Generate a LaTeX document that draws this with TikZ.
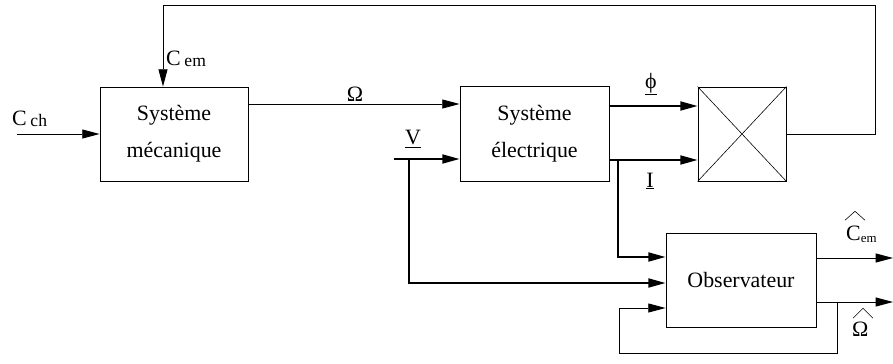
\documentclass[tikz,border=0pt]{standalone}
\usepackage{fontspec}
\setmainfont{Liberation Serif}
\usetikzlibrary{arrows.meta}
\begin{document}
\begin{tikzpicture}[x=0.03cm, y=-0.03cm,
  bloc/.style={draw, line width=0.7pt, align=center, inner sep=0pt,
    font=\fontsize{18.7}{31.5}\selectfont},
  fin/.style={line width=0.8pt},
  gras/.style={line width=1.7pt},
  chapeau/.style={line width=0.5pt},
  fl/.style={-{Triangle[length=0.52cm, width=0.27cm]}},
  lbl/.style={inner sep=0pt, font=\fontsize{18.7}{22}\selectfont}]
\useasboundingbox (0,0) rectangle (893,364);
% blocs
\node[bloc, minimum width=4.44cm, minimum height=2.82cm] (meca) at (174,134) {Système\\mécanique};
\node[bloc, minimum width=4.47cm, minimum height=2.85cm] (elec) at (534.5,133.5) {Système\\électrique};
\node[bloc, minimum width=2.64cm, minimum height=2.82cm] (croix) at (742,134) {};
\node[bloc, minimum width=4.5cm, minimum height=2.82cm] (obs) at (741,280) {Observateur};
\draw[line width=0.5pt] (croix.north west) -- (croix.south east) (croix.north east) -- (croix.south west);
% points libres
\coordinate (cch) at (17,134);
\coordinate (haut) at (875,5);
\coordinate (vin) at (394,159);
\coordinate (vbr) at (409,159);
\coordinate (ibr) at (618,160);
\coordinate (sc) at (893,258);
\coordinate (sw) at (893,302);
\coordinate (wbr) at (837,302);
\coordinate (bas) at (619,353);
% liaisons
\draw[fin, fl] (cch) -- (meca.west);
\draw[fin, fl] (croix.east) -| (haut) -| ([xshift=-0.33cm]meca.north);
\draw[fin, fl] (meca.east |- 0,104) -- (elec.west |- 0,104);
\draw[gras, fl] (vin) -- (elec.west |- vin);
\draw[gras, fl] (vbr) |- (obs.west |- 0,283);
\draw[gras, fl] (elec.east |- 0,106) -- (croix.west |- 0,106);
\draw[gras, fl] (elec.east |- ibr) -- (croix.west |- ibr);
\draw[gras, fl] (ibr) |- (obs.west |- 0,257);
\draw[fin, fl] (obs.east |- sc) -- (sc);
\draw[fin, fl] (obs.east |- sw) -- (sw);
\draw[fin, fl] (wbr) |- (bas) |- (obs.west |- 0,308);
% etiquettes
\node[lbl, anchor=base west] (lcch) at (12,125) {C\,\raisebox{-1.5pt}{\fontsize{15}{15}\selectfont ch}};
\node[lbl, anchor=base west] (lcem) at (166,65) {C\,\raisebox{-1.5pt}{\fontsize{15}{15}\selectfont em}};
\node[lbl] (lom) at (355,94) {Ω};
\node[lbl] (lv) at (413,139) {\underline{V}};
\node[lbl] (lphi) at (651,84) {\underline{ϕ}};
\node[lbl] (li) at (650,181) {\underline{I}};
\node[lbl, anchor=base west] (lchat) at (846,240) {C\raisebox{-2pt}{\fontsize{11}{11}\selectfont em}};
\node[lbl, anchor=base west] (lwhat) at (852,336) {Ω};
\draw[chapeau] (lchat.north west) ++(-1,-5) -- ++(10,-9) -- ++(10,9);
\draw[chapeau] (lwhat.north west) ++(1,-3) -- ++(10,-10) -- ++(10,10);
\end{tikzpicture}
\end{document}
